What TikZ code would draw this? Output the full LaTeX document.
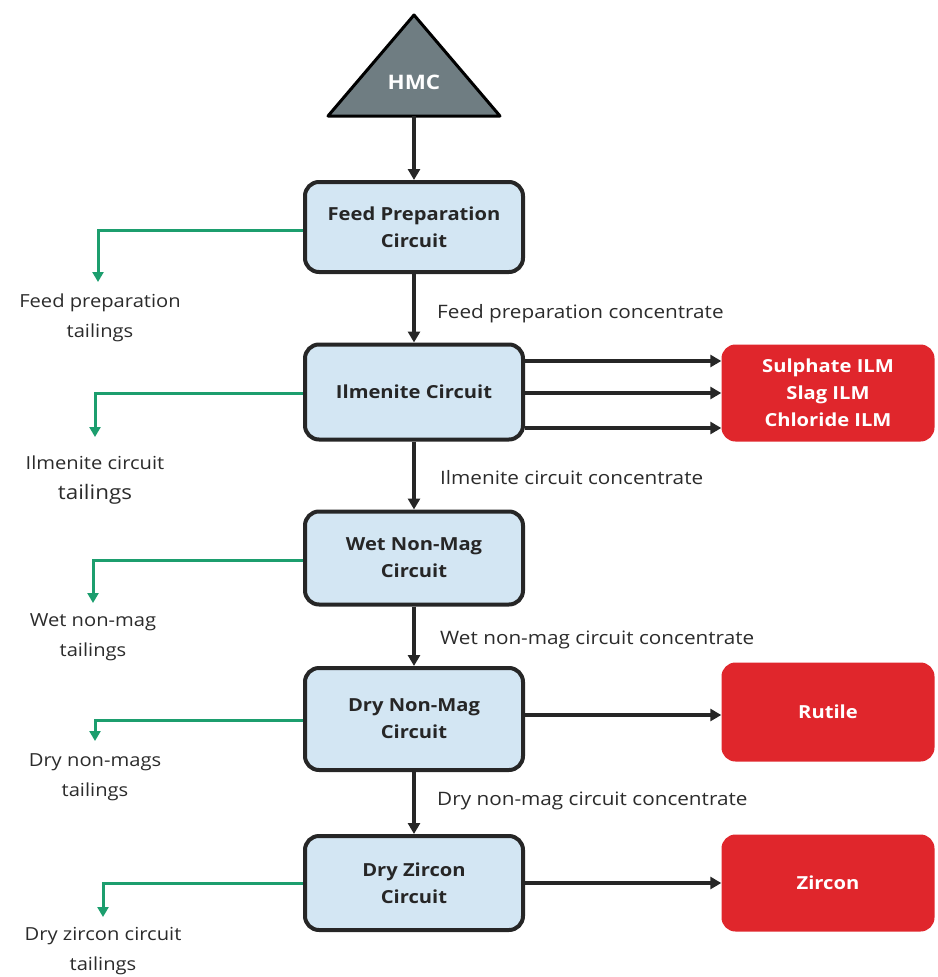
\documentclass[tikz,border=0pt]{standalone}
\usepackage{fontspec}
\setmainfont[FakeStretch=1.12]{Open Sans}
\usetikzlibrary{arrows.meta,calc}
\definecolor{boxblue}{HTML}{D3E6F3}
\definecolor{redbox}{HTML}{E0262C}
\definecolor{tailgreen}{HTML}{1C9E6E}
\definecolor{hmcgray}{HTML}{6F7D82}
\definecolor{labgray}{HTML}{2B2B2B}
\tikzset{
  circuit/.style={draw=black!85, line width=4pt, fill=boxblue, rounded corners=14pt,
    minimum width=218pt, align=center, font=\bfseries\fontsize{18}{27}\selectfont, text=black!85},
  product/.style={fill=redbox, rounded corners=14pt, minimum width=213pt, align=center,
    font=\bfseries\fontsize{18}{27}\selectfont, text=white},
  flow/.style={draw=black!85, line width=3.5pt, -{Triangle[length=11pt,width=12pt]}},
  tail/.style={draw=tailgreen, line width=3pt, -{Triangle[length=10pt,width=11pt]}},
  conc/.style={anchor=west, font=\fontsize{18.5}{22}\selectfont, text=labgray, inner sep=0pt},
  taillab/.style={align=center, font=\fontsize{18}{30}\selectfont, text=labgray, inner sep=0pt},
}
\begin{document}
\begin{tikzpicture}[x=1pt,y=-1pt]
\useasboundingbox (0,0) rectangle (937,977);
% HMC triangle
\draw[line width=3pt, fill=hmcgray, line join=round] (414,15) -- (500,116) -- (328,116) -- cycle;
\node[text=white, font=\bfseries\fontsize{20}{22}\selectfont] (hmc) at (414,82) {HMC};
\coordinate (hmcbase) at (414,116);
% circuits
\node[circuit, minimum height=90pt] (feed) at (414,227) {Feed Preparation\\Circuit};
\node[circuit, minimum height=95pt] (ilm) at (414,392) {Ilmenite Circuit};
\node[circuit, minimum height=93pt] (wet) at (414,558) {Wet Non-Mag\\Circuit};
\node[circuit, minimum height=102pt] (dnm) at (414,719) {Dry Non-Mag\\Circuit};
\node[circuit, minimum height=94pt] (dz) at (414,883) {Dry Zircon\\Circuit};
% products
\node[product, minimum height=97pt] (ilmprod) at (828,393) {Sulphate ILM\\Slag ILM\\Chloride ILM};
\node[product, minimum height=99pt] (rutile) at (828,712) {Rutile};
\node[product, minimum height=97pt] (zircon) at (828,883) {Zircon};
% main flow
\draw[flow] (hmcbase) -- (feed.north);
\draw[flow] (feed.south) -- (ilm.north);
\draw[flow] (ilm.south) -- (wet.north);
\draw[flow] (wet.south) -- (dnm.north);
\draw[flow] (dnm.south) -- (dz.north);
% product arrows
\draw[flow] ([yshift=31pt]ilm.east) -- ([yshift=32pt]ilmprod.west);
\draw[flow] ([yshift=-1pt]ilm.east) -- ([yshift=0pt]ilmprod.west);
\draw[flow] ([yshift=-36pt]ilm.east) -- ([yshift=-35pt]ilmprod.west);
\draw[flow] ([yshift=4pt]dnm.east) -- ([yshift=-3pt]rutile.west);
\draw[flow] (dz.east) -- (zircon.west);
% concentrate labels
\node[conc] (c1) at (437,314) {Feed preparation concentrate};
\node[conc] (c2) at (440,478) {Ilmenite circuit concentrate};
\node[conc] (c3) at (440,640) {Wet non-mag circuit concentrate};
\node[conc] (c4) at (437,801) {Dry non-mag circuit concentrate};
% tailings labels
\node[taillab] (t1) at (100,318) {Feed preparation\\tailings};
\node[taillab] (t2) at (95,480) {Ilmenite circuit\\{\fontsize{20}{30}\selectfont tailings}};
\node[taillab] (t3) at (93,637) {Wet non-mag\\tailings};
\node[taillab] (t4) at (95,777) {Dry non-mags\\tailings};
\node[taillab] (t5) at (103,951) {Dry zircon circuit\\tailings};
% tailings arrow ends
\coordinate (e1) at (98,282);
\coordinate (e2) at (95,437);
\coordinate (e3) at (93,603);
\coordinate (e4) at (95,741);
\coordinate (e5) at (103,917);
% tailings arrows
\draw[tail] ([yshift=-3pt]feed.west) -| (e1);
\draw[tail] ([yshift=-1pt]ilm.west) -| (e2);
\draw[tail] ([yshift=-2pt]wet.west) -| (e3);
\draw[tail] ([yshift=-1pt]dnm.west) -| (e4);
\draw[tail] ([yshift=0pt]dz.west) -| (e5);
\end{tikzpicture}
\end{document}
